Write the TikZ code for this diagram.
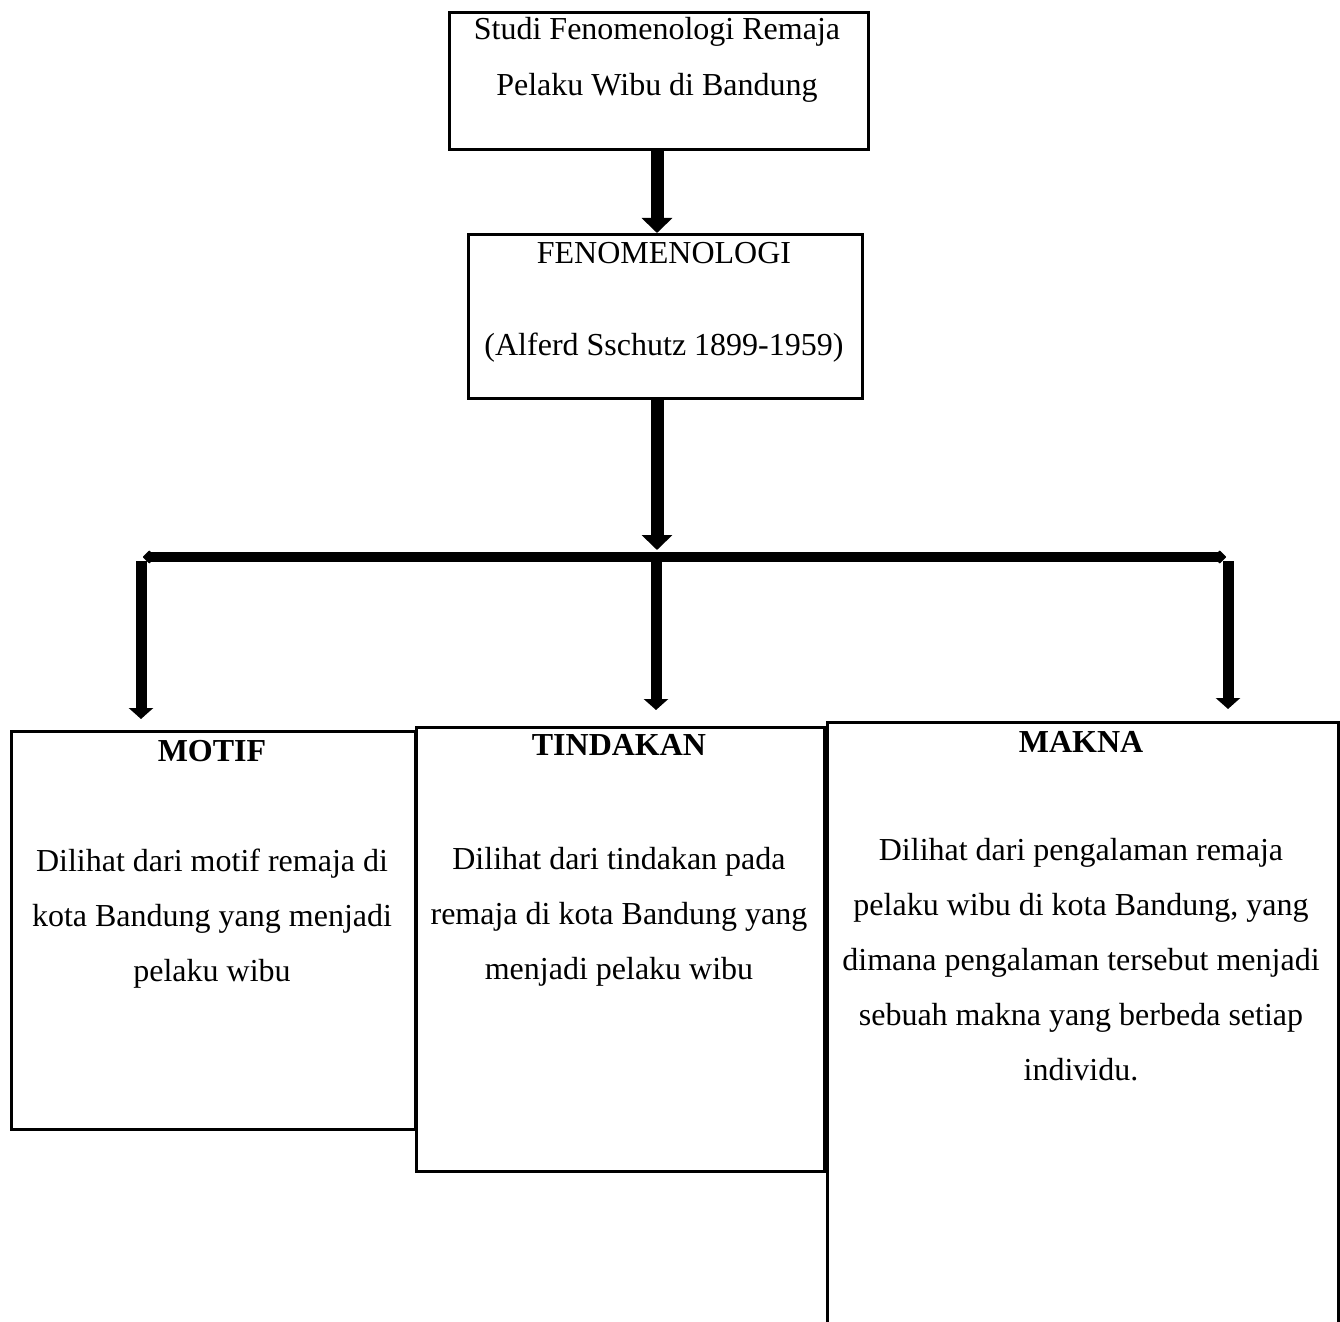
\documentclass[tikz,border=0pt]{standalone}
\usepackage{fontspec}
\setmainfont{Liberation Serif}
\usetikzlibrary{arrows.meta}

\tikzset{
  kotak/.style={draw, line width=1.5pt, inner sep=0pt, anchor=north west},
  teks/.style={align=center, anchor=base, inner sep=0pt, font=\fontsize{16}{27.5}\selectfont},
  panah/.style={line width=6.5pt, -{Triangle[width=15pt,length=7.5pt]}},
  cabang/.style={line width=5.5pt, -{Triangle[width=12pt,length=5.5pt]}},
  palang/.style={line width=5pt, {Triangle[width=7.5pt,length=4pt,round]}-{Triangle[width=7.5pt,length=4pt,round]}},
}

\begin{document}
\begin{tikzpicture}[x=0.5pt,y=-0.5pt]
\useasboundingbox (0,0) rectangle (1340,1322);

% kotak
\node[kotak, minimum width=209.5pt, minimum height=68.5pt] (judul) at (448,11) {};
\node[kotak, minimum width=197pt, minimum height=82pt] (fenom) at (467,233) {};
\node[kotak, minimum width=202pt, minimum height=199pt] (motif) at (10,730) {};
\node[kotak, minimum width=204pt, minimum height=222pt] (tindakan) at (415,726) {};
\node[kotak, minimum width=255.5pt, minimum height=320pt] (makna) at (826,721) {};

% teks (anchor base = baris terakhir)
\node[teks] (judulteks) at (657,96) {Studi Fenomenologi Remaja\\[0.5pt]Pelaku Wibu di Bandung};
\node[teks] (fenomteks) at (664,355) {FENOMENOLOGI\\[18.5pt](Alferd Sschutz 1899-1959)};
\node[teks] (motifjudul) at (212,761) {\textbf{MOTIF}};
\node[teks] (motifisi) at (212,981) {Dilihat dari motif remaja di\\kota Bandung yang menjadi\\pelaku wibu};
\node[teks] (tindakanjudul) at (619,755) {\textbf{TINDAKAN}};
\node[teks] (tindakanisi) at (619,979) {Dilihat dari tindakan pada\\remaja di kota Bandung yang\\menjadi pelaku wibu};
\node[teks] (maknajudul) at (1081,752) {\textbf{MAKNA}};
\node[teks] (maknaisi) at (1081,1080) {Dilihat dari pengalaman remaja\\pelaku wibu di kota Bandung, yang\\dimana pengalaman tersebut menjadi\\sebuah makna yang berbeda setiap\\individu.};

% percabangan
\coordinate (kiri) at (143,557);
\coordinate (tengah) at (657,557);
\coordinate (kanan) at (1226,557);
\coordinate (sA) at (141,561);
\coordinate (tA) at (141,719);
\coordinate (sB) at (656,561);
\coordinate (tB) at (656,710);
\coordinate (sC) at (1228,561);
\coordinate (tC) at (1228,709);

\draw[panah] (tengah |- judul.south) -- (tengah |- fenom.north);
\draw[palang] (kiri) -- (kanan);
\draw[panah, shorten >=3.5pt] (tengah |- fenom.south) -- (tengah);
\draw[cabang] (sA) -- (tA);
\draw[cabang] (sB) -- (tB);
\draw[cabang] (sC) -- (tC);
\end{tikzpicture}
\end{document}
